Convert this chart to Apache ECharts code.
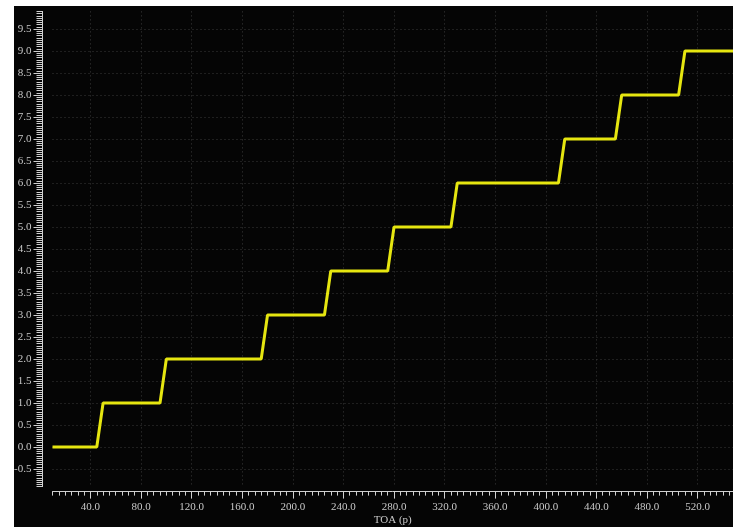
<!DOCTYPE html>
<html>
<head>
<meta charset="utf-8">
<script src="https://cdn.jsdelivr.net/npm/echarts@6/dist/echarts.min.js"></script>
<style>
  html, body { margin: 0; padding: 0; background: #fff; }
  #wrap { position: relative; width: 733px; height: 527px; background: #fff; }
  #chart { position: absolute; left: 14px; top: 6px; width: 719px; height: 521px; background: #050505; }
</style>
</head>
<body>
<div id="wrap"><div id="chart"></div></div>
<script>
// step trace: TOA (p) vs output code
const toaValues  = [10, 45, 50, 95, 100, 175, 180, 225, 230, 275, 280, 325, 330, 410, 415, 455, 460, 505, 510, 548]
const codeValues = [0, 0, 1, 1, 2, 2, 3, 3, 4, 4, 5, 5, 6, 6, 7, 7, 8, 8, 9, 9]

// axis ticks
const xTicks = [40, 80, 120, 160, 200, 240, 280, 320, 360, 400, 440, 480, 520]
const yTicks = [-0.5, 0, 0.5, 1, 1.5, 2, 2.5, 3, 3.5, 4, 4.5, 5, 5.5, 6, 6.5, 7, 7.5, 8, 8.5, 9, 9.5]

const xMin = 10, xMax = 548
const yMin = -0.9, yMax = 9.9

// minor tick positions (every 5 on x, every 0.05 on y)
const xMinor = []
for (let v = 10; v <= 545; v += 5) xMinor.push(v)
const yMinor = []
for (let i = -18; i <= 198; i++) yMinor.push(+(i * 0.05).toFixed(2))

const txt = '#c8c8c8'
const font = 'Liberation Serif'
const gridLine = { show: true, lineStyle: { color: '#3a3a3a', type: [1, 3], width: 1 } }

const chart = echarts.init(document.getElementById('chart'))
chart.setOption({
  backgroundColor: '#050505',
  animation: false,
  grid: { left: 38.5, right: 0, top: 5.4, bottom: 40.4, containLabel: false, outerBoundsMode: 'none' },
  xAxis: [
    {
      type: 'value', min: xMin, max: xMax, offset: 5, position: 'bottom',
      name: 'TOA (p)', nameLocation: 'middle', nameGap: 23, nameMoveOverlap: false,
      nameTextStyle: { color: txt, fontFamily: font, fontSize: 11 },
      axisLine: { onZero: false, lineStyle: { color: '#d0d0d0', width: 1 } },
      axisTick: { customValues: xTicks, length: 7, lineStyle: { color: '#d0d0d0' } },
      axisLabel: { customValues: xTicks, margin: 10, color: txt, fontFamily: font, fontSize: 11,
        formatter: v => v.toFixed(1) },
      splitLine: gridLine,
    },
    {
      type: 'value', min: xMin, max: xMax, offset: 5, position: 'bottom',
      axisLine: { show: false, onZero: false },
      axisTick: { customValues: xMinor, length: 4, lineStyle: { color: '#d0d0d0' } },
      axisLabel: { show: false },
      splitLine: { show: false },
    },
  ],
  yAxis: [
    {
      type: 'value', min: yMin, max: yMax, offset: 10, position: 'left',
      axisLine: { show: true, onZero: false, lineStyle: { color: '#d0d0d0', width: 1 } },
      axisTick: { show: true, customValues: yTicks, length: 9, lineStyle: { color: '#d0d0d0' } },
      axisLabel: { customValues: yTicks, margin: 11, color: txt, fontFamily: font, fontSize: 11,
        formatter: v => v.toFixed(1) },
      splitLine: gridLine,
    },
    {
      type: 'value', min: yMin, max: yMax, offset: 10, position: 'left',
      axisLine: { show: false, onZero: false },
      axisTick: { show: true, customValues: yMinor, length: 6, lineStyle: { color: '#d0d0d0' } },
      axisLabel: { show: false },
      splitLine: { show: false },
    },
  ],
  series: [
    {
      type: 'line',
      xAxisIndex: 0, yAxisIndex: 0,
      showSymbol: false,
      lineStyle: { color: '#e6e610', width: 3 },
      data: toaValues.map((x, i) => [x, codeValues[i]]),
    },
  ],
})
</script>
</body>
</html>
